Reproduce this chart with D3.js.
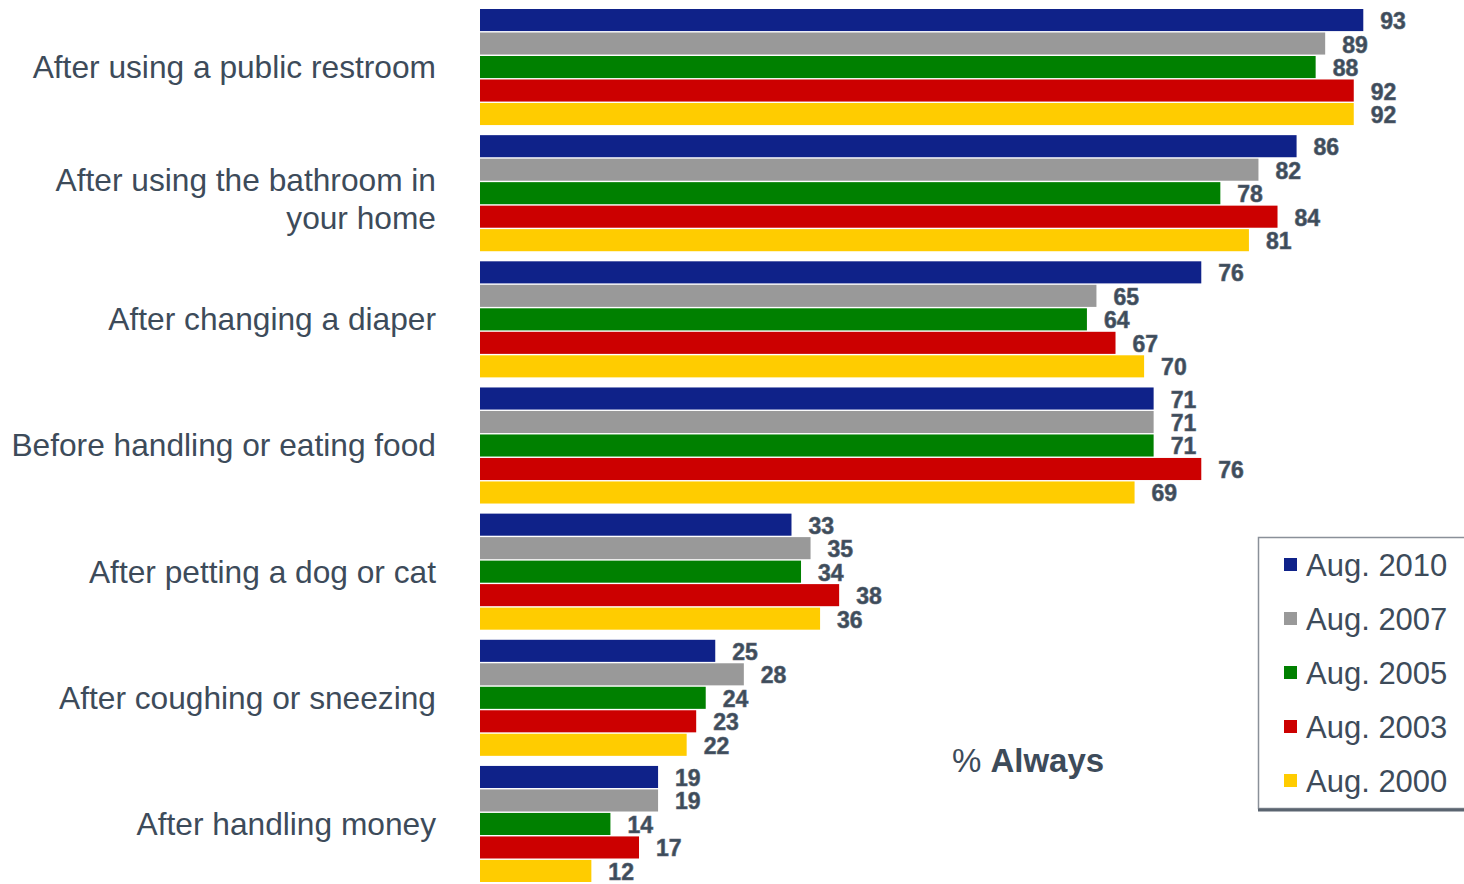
<!DOCTYPE html>
<html><head><meta charset="utf-8">
<script src="https://cdn.jsdelivr.net/npm/d3@7/dist/d3.min.js"></script>
<style>body{margin:0;background:#fff;}svg{display:block;}</style>
</head><body>
<script>
const categories = [
  "After using a public restroom",
  "After using the bathroom in|your home",
  "After changing a diaper",
  "Before handling or eating food",
  "After petting a dog or cat",
  "After coughing or sneezing",
  "After handling money"
];
const seriesNames = ["Aug. 2010","Aug. 2007","Aug. 2005","Aug. 2003","Aug. 2000"];
const aug2010 = [93, 86, 76, 71, 33, 25, 19];
const aug2007 = [89, 82, 65, 71, 35, 28, 19];
const aug2005 = [88, 78, 64, 71, 34, 24, 14];
const aug2003 = [92, 84, 67, 76, 38, 23, 17];
const aug2000 = [92, 81, 70, 69, 36, 22, 12];
const seriesValues = [aug2010, aug2007, aug2005, aug2003, aug2000];
const colors = ["#0f2289", "#999999", "#008000", "#cc0000", "#ffcc00"];
const axisTitle = "% Always";

const W = 1464, H = 884;
const textColor = "#3d4b5a";
const svg = d3.select("body").append("svg").attr("width", W).attr("height", H);

const x = d3.scaleLinear().domain([0, 100]).range([477, 1430]);
const y = d3.scaleBand().domain(categories).range([9, 882]).paddingInner(0.08).paddingOuter(0);
const ys = d3.scaleBand().domain(seriesNames).range([0, y.bandwidth()]).paddingInner(0.06);

const groups = svg.append("g").selectAll("g").data(categories).join("g")
  .attr("transform", d => `translate(0,${y(d)})`);

seriesNames.forEach((s, si) => {
  groups.append("rect")
    .attr("x", x(0) + 3)
    .attr("y", ys(s))
    .attr("width", (d, i) => x(seriesValues[si][i]) - x(0) - 3)
    .attr("height", ys.bandwidth())
    .attr("fill", colors[si]);
  groups.append("text")
    .attr("x", (d, i) => x(seriesValues[si][i]) + 17)
    .attr("y", ys(s) + ys.bandwidth() / 2 + 1)
    .attr("dominant-baseline", "central")
    .attr("font-family", "Liberation Sans, Arial, sans-serif")
    .attr("font-weight", "bold")
    .attr("font-size", 23)
    .attr("fill", textColor)
    .attr("stroke", "#5a6673")
    .attr("stroke-width", 0.6)
    .text((d, i) => seriesValues[si][i]);
});

// category labels
groups.each(function(d) {
  const lines = d.split("|");
  const g = d3.select(this);
  const lh = 38;
  const cy = y.bandwidth() / 2 + (lines.length > 1 ? 6 : 0);
  lines.forEach((ln, li) => {
    g.append("text")
      .attr("x", 436)
      .attr("y", cy + (li - (lines.length - 1) / 2) * lh)
      .attr("dominant-baseline", "central")
      .attr("text-anchor", "end")
      .attr("font-family", "Liberation Sans, Arial, sans-serif")
      .attr("font-size", 31.7)
      .attr("fill", textColor)
      .text(ln);
  });
});

// axis title
const t = svg.append("text")
  .attr("x", 1028).attr("y", 760)
  .attr("text-anchor", "middle")
  .attr("dominant-baseline", "central")
  .attr("font-family", "Liberation Sans, Arial, sans-serif")
  .attr("font-size", 33)
  .attr("fill", textColor);
t.append("tspan").text(axisTitle.split(" ")[0] + " ");
t.append("tspan").attr("font-weight", "bold").text(axisTitle.split(" ")[1]);

// legend
const lg = svg.append("g");
lg.append("rect").attr("x", 1258.5).attr("y", 537.5).attr("width", 220).attr("height", 271)
  .attr("fill", "#fff").attr("stroke", "#8a9099").attr("stroke-width", 1.5);
lg.append("line").attr("x1", 1258).attr("x2", 1464).attr("y1", 810).attr("y2", 810)
  .attr("stroke", "#5a6470").attr("stroke-width", 3);
const ly = d3.scalePoint().domain(seriesNames).range([565, 781]);
seriesNames.forEach((s, si) => {
  lg.append("rect").attr("x", 1284).attr("y", ly(s) - 7).attr("width", 13).attr("height", 13)
    .attr("fill", colors[si]);
  lg.append("text").attr("x", 1306).attr("y", ly(s))
    .attr("dominant-baseline", "central")
    .attr("font-family", "Liberation Sans, Arial, sans-serif")
    .attr("font-size", 31)
    .attr("fill", textColor)
    .text(s);
});
</script>
</body></html>
